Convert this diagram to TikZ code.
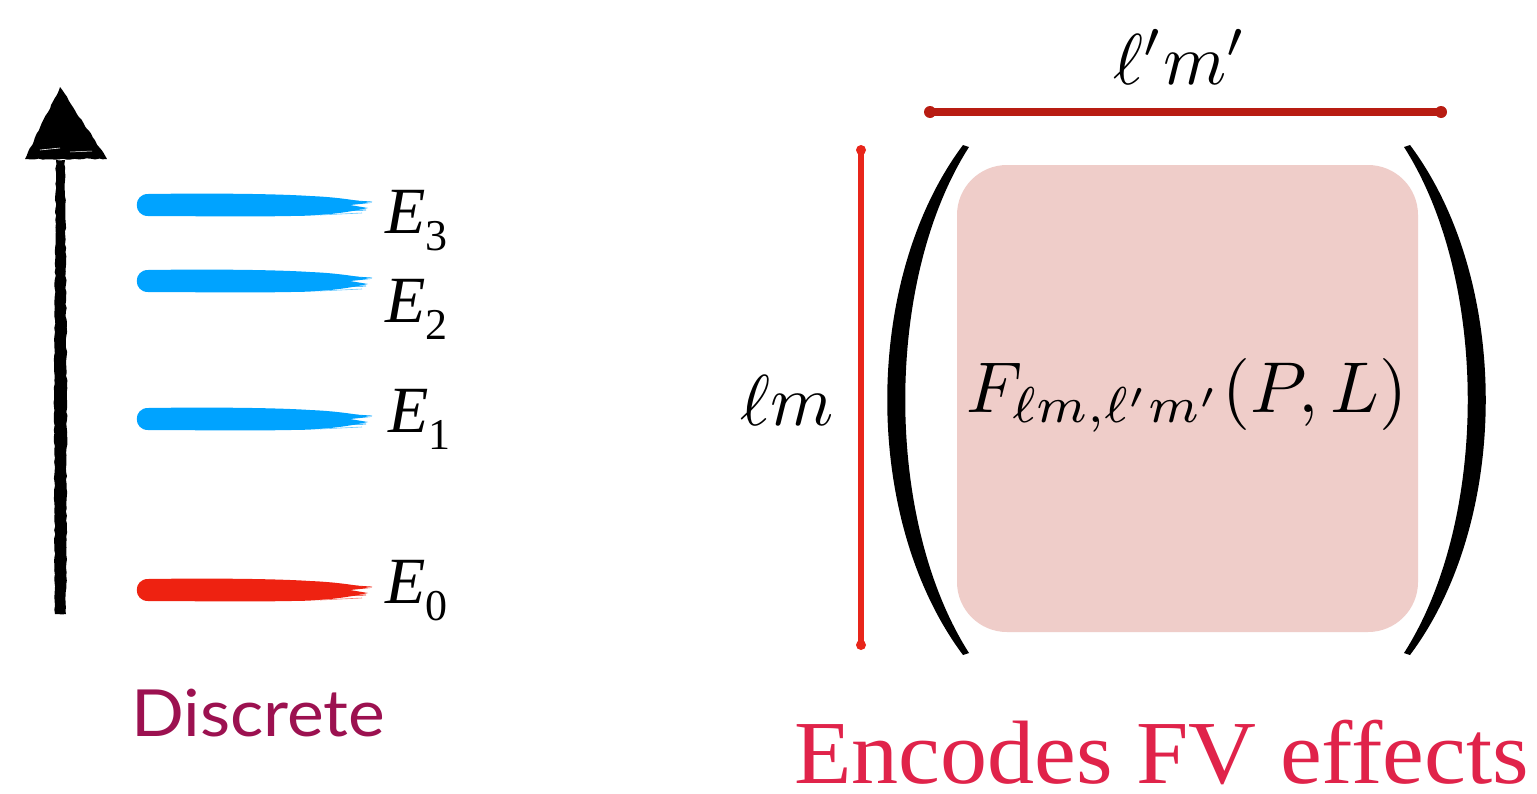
\documentclass[tikz,border=0pt]{standalone}
\usepackage{fontspec}
\setmainfont{Liberation Serif}
\newfontfamily\discfont{Lato}
\usetikzlibrary{decorations.pathmorphing}
\definecolor{barblue}{HTML}{00A3FF}
\definecolor{barred}{HTML}{EE2211}
\definecolor{vred}{HTML}{E8251A}
\definecolor{hred}{HTML}{B81C12}
\definecolor{pinkbox}{HTML}{EFCDC9}
\definecolor{discol}{HTML}{9C1150}
\definecolor{enccol}{HTML}{E0234A}
\newcommand{\brushbar}[2]{%
  \fill[#2] (148,#1-11) .. controls (220,#1-12) and (280,#1-11) .. (310,#1-9)
    .. controls (335,#1-8) and (355,#1-5) .. (370,#1-2) -- (350,#1) -- (368,#1+3)
    .. controls (345,#1+8) and (320,#1+11) .. (290,#1+11)
    .. controls (240,#1+12) and (190,#1+11) .. (148,#1+11)
    .. controls (133,#1+11) and (133,#1-11) .. (148,#1-11) -- cycle;
  \draw[#2, line width=0.8pt] (300,#1+7) -- (366,#1+5);
  \draw[#2, line width=0.8pt] (310,#1-7) -- (372,#1-3);
  \draw[#2!60, line width=0.6pt] (320,#1+10) -- (362,#1+8);
}
\tikzset{
  elabel/.style={anchor=base west, inner sep=0pt, font=\fontsize{66}{70}\selectfont},
  mathlabel/.style={inner sep=0pt, font=\fontsize{10}{12}\selectfont},
  sketch/.style={decorate, decoration={random steps, segment length=4pt, amplitude=0.7pt}},
}
\newcommand{\Elab}[1]{\itshape E\upshape\raisebox{-17pt}{\fontsize{44}{48}\selectfont #1}}
\newcommand{\bigmath}[1]{\scalebox{7.2}{$#1$}}
\begin{document}
\begin{tikzpicture}[x=1pt,y=-1pt]
\useasboundingbox (0,0) rectangle (1537,793);
\fill[white] (0,0) rectangle (1537,793);

% energy axis arrow
\coordinate (abot) at (60,614);
\coordinate (atop) at (60,158);
\fill[black, sketch] (55,614) -- (54,400) -- (56,160) -- (65,160) -- (67,400) -- (66,614) -- cycle;
\fill[black, sketch] (25,159) -- (60,87) -- (107,159) -- cycle;
\draw[white, line width=0.6pt] (40,150) -- (60,148);
\draw[white, line width=0.5pt] (70,152) -- (92,151);

% levels
\brushbar{205}{barblue}
\brushbar{281}{barblue}
\brushbar{419}{barblue}
\brushbar{590}{barred}

\node[elabel] (E3) at (385,233) {\Elab{3}};
\node[elabel] (E2) at (385,322) {\Elab{2}};
\node[elabel] (E1) at (388,432) {\Elab{1}};
\node[elabel] (E0) at (385,603) {\Elab{0}};

\node[anchor=base west, inner sep=0pt, text=discol, font=\discfont\fontsize{65}{70}\selectfont] (disc) at (131,736) {\scalebox{1.07}[1]{Discrete}};

% matrix part
\fill[pinkbox, rounded corners=50pt] (957,165) rectangle (1418,632);
\fill[black] (963,145) .. controls (862,280) and (862,520) .. (963,655) -- (969,653)
  .. controls (884,520) and (884,280) .. (969,147) -- cycle;
\fill[black] (1410,145) .. controls (1511,280) and (1511,520) .. (1410,655) -- (1404,653)
  .. controls (1489,520) and (1489,280) .. (1404,147) -- cycle;

\coordinate (vt) at (861,150);
\coordinate (vb) at (861,645);
\draw[vred, line width=6pt, line cap=round] (vt) -- (vb);
\fill[vred] (vt) circle (5pt) (vb) circle (5pt);
\coordinate (hl) at (930,112);
\coordinate (hr) at (1441,112);
\draw[hred, line width=7.5pt, line cap=round] (hl) -- (hr);
\fill[hred] (hl) circle (6pt) (hr) circle (6pt);

\node[mathlabel, anchor=base] (lpmp) at (1180,84) {\bigmath{\ell' m'}};
\node[mathlabel, anchor=base east] (lm) at (834,425) {\bigmath{\ell m}};
\node[mathlabel, anchor=base] (F) at (1187,412) {\bigmath{F_{\ell m,\ell' m'}(P,L)}};

\node[anchor=base west, inner sep=0pt, text=enccol, font=\fontsize{90}{94}\selectfont] (enc) at (794,783) {\scalebox{1.045}[1]{Encodes FV effects}};
\end{tikzpicture}
\end{document}
